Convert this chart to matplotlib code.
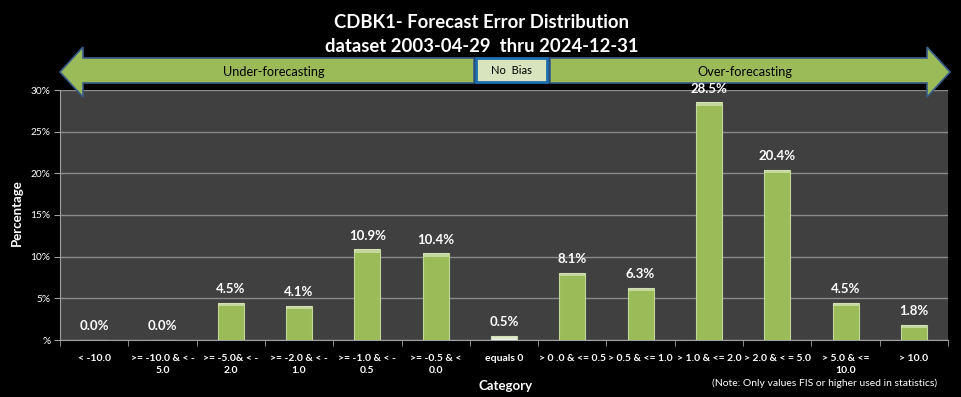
import numpy as np
import matplotlib
matplotlib.use("Agg")
import matplotlib.pyplot as plt
from matplotlib.patches import Polygon, Rectangle

plt.rcParams['font.family'] = ['Lato', 'DejaVu Sans']

# --- datos ---
categorias = ['< -10.0', '>= -10.0 & < -\n5.0', '>= -5.0& < -\n2.0', '>= -2.0 & < -\n1.0',
              '>= -1.0 & < -\n0.5', '>= -0.5 & <\n0.0', 'equals 0', '> 0 .0 & <= 0.5',
              '> 0.5 & <= 1.0', '> 1.0 & <= 2.0', '> 2.0 & < = 5.0', '> 5.0 & <=\n10.0', '> 10.0']
porcentajes = [0.0, 0.0, 4.5, 4.1, 10.9, 10.4, 0.5, 8.1, 6.3, 28.5, 20.4, 4.5, 1.8]
ticks_y = [0, 5, 10, 15, 20, 25, 30]
etiquetas_y = ['%', '5%', '10%', '15%', '20%', '25%', '30%']

W, H = 961, 397
fig = plt.figure(figsize=(W / 100, H / 100), dpi=100, facecolor='black')

# area del grafico (en pixeles de la imagen)
x0, x1, y_top, y_bot = 60, 948, 90, 340
ax = fig.add_axes([x0 / W, (H - y_bot) / H, (x1 - x0) / W, (y_bot - y_top) / H])
ax.set_facecolor('#404040')

x = np.arange(len(categorias))
colores = ['#f2f2f2' if 0 < v < 1 else '#9bbb59' for v in porcentajes]
ax.bar(x, porcentajes, width=0.38, color=colores, edgecolor='#c3d69b', linewidth=0.8, zorder=3)
# brillo superior de las barras
ax.bar(x, [min(v, 0.4) for v in porcentajes], bottom=[max(v - 0.4, 0) for v in porcentajes],
       width=0.38, color='#d7e4bd', linewidth=0, zorder=4, alpha=0.7)

ax.set_xlim(-0.5, len(categorias) - 0.5)
ax.set_ylim(0, 30)
ax.set_yticks(ticks_y)
ax.set_yticklabels(etiquetas_y, color='white', fontsize=7.3)
ax.set_xticks(x)
ax.set_xticklabels(categorias, color='white', fontsize=7.5, fontweight='bold', linespacing=1.45)
ax.set_xticks(np.arange(len(categorias) + 1) - 0.5, minor=True)
ax.tick_params(axis='x', which='major', length=0, pad=10)
ax.tick_params(axis='x', which='minor', length=4, color='#a0a0a0')
ax.tick_params(axis='y', length=4, color='#a0a0a0', pad=3)
ax.grid(axis='y', color='#8a8a8a', linewidth=1.0, zorder=1)
for lado in ['top', 'right']:
    ax.spines[lado].set_visible(False)
ax.spines['left'].set_color('#a0a0a0')
ax.spines['bottom'].set_color('#a0a0a0')

fig.text(17 / W, 1 - 213 / H, 'Percentage', rotation=90, ha='center', va='center',
         color='white', fontsize=9.5, fontweight='bold')
fig.text(506 / W, 1 - 386 / H, 'Category', ha='center', va='center',
         color='white', fontsize=9.5, fontweight='bold')
fig.text(937 / W, 1 - 383 / H, '(Note: Only values FIS or higher used in statistics)',
         ha='right', va='center', color='white', fontsize=7.5)

# titulo
fig.text(482 / W, 1 - 22 / H, 'CDBK1- Forecast Error Distribution', ha='center', va='center',
         color='white', fontsize=13.3, fontweight='bold')
fig.text(482 / W, 1 - 47 / H, 'dataset 2003-04-29  thru 2024-12-31', ha='center', va='center',
         color='white', fontsize=13.3, fontweight='bold')

# flechas de sesgo, en una capa superpuesta con coordenadas en pixeles
ov = fig.add_axes([0, 0, 1, 1], zorder=10)
ov.set_xlim(0, W)
ov.set_ylim(H, 0)
ov.axis('off')

izq = [(60, 72), (83, 47), (83, 58), (474, 58), (474, 83), (83, 83), (83, 97)]
der = [(950, 72), (927, 47), (927, 58), (550, 58), (550, 83), (927, 83), (927, 97)]
for pts in (izq, der):
    ov.add_patch(Polygon(pts, closed=True, facecolor='#9bbb59', edgecolor='#385d8a', linewidth=1.2))
ov.add_patch(Rectangle((476, 58), 71, 24, facecolor='#d7e4bd', edgecolor='#1f6fb0', linewidth=2))
ov.text(511, 71, 'No  Bias', ha='center', va='center', fontsize=8, color='black')
ov.text(274, 72, 'Under-forecasting', ha='center', va='center', fontsize=9.2, color='black')
ov.text(745, 72, 'Over-forecasting', ha='center', va='center', fontsize=9.2, color='black')

# etiquetas de valor encima de todo (la de 28.5% queda junto a la flecha)
for xi, v in zip(x, porcentajes):
    ov.annotate(f'{v:.1f}%', xy=(xi, v), xycoords=ax.transData, xytext=(0, 5.5),
                textcoords='offset points', ha='center', va='bottom', color='white',
                fontsize=9.5, fontweight='bold', zorder=12)

fig.savefig('out.png', dpi=100, facecolor='black')
